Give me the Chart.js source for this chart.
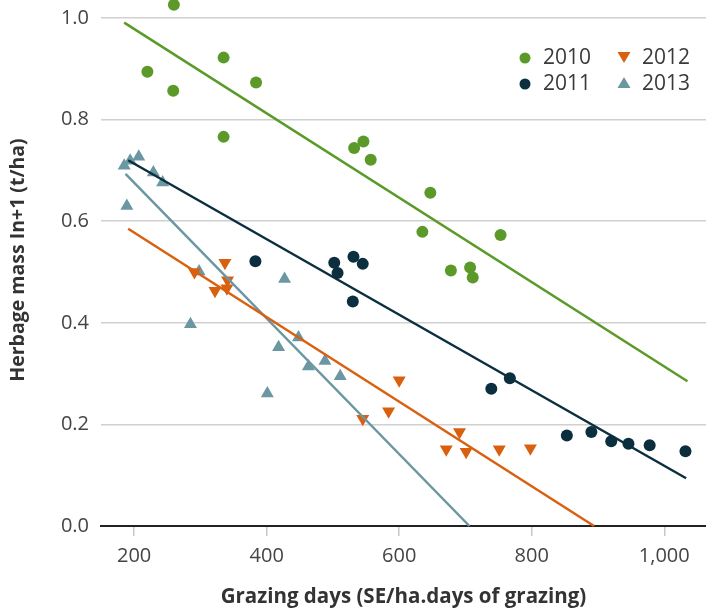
<!DOCTYPE html>
<html>
<head>
<meta charset="utf-8">
<script src="https://cdn.jsdelivr.net/npm/chart.js@4/dist/chart.umd.min.js"></script>
<style>
  html, body { margin: 0; padding: 0; background: #fff; }
  #wrap { position: relative; width: 706px; height: 612px; }
  canvas { display: block; }
  .leg { position: absolute; font-family: "Open Sans", sans-serif; font-size: 21px; color: #3a3a3a; line-height: 1; white-space: nowrap; }
</style>
</head>
<body>
<div id="wrap">
  <canvas id="c" width="706" height="612"></canvas>
  <div id="legend"></div>
</div>
<script>
// ---- Data ----
const years = ["2010", "2011", "2012", "2013"];
const colors = ["#5b9a28", "#0b2f3e", "#d9600f", "#6b97a3"];

const x2010 = [220, 260, 259, 335, 335, 384, 532, 546, 557, 635, 647, 678, 707, 711, 753];
const y2010 = [0.894, 1.026, 0.857, 0.922, 0.766, 0.873, 0.744, 0.757, 0.721, 0.579, 0.656, 0.503, 0.509, 0.489, 0.573];

const x2011 = [383, 502, 507, 531, 530, 545, 739, 767, 853, 890, 920, 946, 978, 1032];
const y2011 = [0.521, 0.518, 0.498, 0.530, 0.442, 0.516, 0.270, 0.291, 0.178, 0.185, 0.167, 0.162, 0.159, 0.147];

const x2012 = [291, 322, 337, 340, 341, 545, 584, 600, 671, 691, 701, 751, 798];
const y2012 = [0.500, 0.463, 0.518, 0.468, 0.484, 0.211, 0.226, 0.287, 0.151, 0.185, 0.146, 0.151, 0.153];

const x2013 = [185, 189, 194, 207, 229, 243, 285, 298, 401, 418, 427, 448, 463, 488, 511];
const y2013 = [0.709, 0.630, 0.719, 0.727, 0.696, 0.676, 0.397, 0.501, 0.261, 0.352, 0.486, 0.371, 0.314, 0.325, 0.295];

// Trend line end points [x, y]
const fit2010 = [[185, 0.991], [1035, 0.285]];
const fit2011 = [[191, 0.720], [1033, 0.094]];
const fit2012 = [[191, 0.585], [894, 0.0]];
const fit2013 = [[187, 0.693], [706, 0.0]];

const xTicks = [200, 400, 600, 800, 1000];
const yTicks = [0, 0.2, 0.4, 0.6, 0.8, 1.0];

const xTitle = "Grazing days (SE/ha.days of grazing)";
const yTitle = "Herbage mass In+1 (t/ha)";

// ---- Build ----
const zip = (xs, ys) => xs.map((x, i) => ({ x: x, y: ys[i] }));
const fitPts = f => f.map(p => ({ x: p[0], y: p[1] }));

const scatterXs = [x2010, x2011, x2012, x2013];
const scatterYs = [y2010, y2011, y2012, y2013];
const fits = [fit2010, fit2011, fit2012, fit2013];
const styles = [
  { pointStyle: "circle", radius: 6, rotation: 0 },
  { pointStyle: "circle", radius: 6, rotation: 0 },
  { pointStyle: "triangle", radius: 7.5, rotation: 180 },
  { pointStyle: "triangle", radius: 7.5, rotation: 0 }
];

const datasets = [];
years.forEach((yr, i) => {
  datasets.push({
    type: "scatter",
    label: yr,
    data: zip(scatterXs[i], scatterYs[i]),
    backgroundColor: colors[i],
    borderColor: colors[i],
    borderWidth: 0,
    pointStyle: styles[i].pointStyle,
    pointRadius: styles[i].radius,
    pointRotation: styles[i].rotation,
    pointHoverRadius: styles[i].radius,
    clip: false,
    order: 2
  });
});
years.forEach((yr, i) => {
  datasets.push({
    type: "line",
    label: yr + " fit",
    data: fitPts(fits[i]),
    borderColor: colors[i],
    borderWidth: 2.5,
    pointRadius: 0,
    fill: false,
    clip: false,
    order: 1
  });
});

const FONT = "'Open Sans', sans-serif";

// Points lying above the plot area are culled by Chart.js; draw those elements too.
const outsidePoints = {
  id: "outsidePoints",
  afterDatasetsDraw(chart) {
    const area = chart.chartArea;
    const big = { left: -1e4, top: -1e4, right: 1e4, bottom: 1e4 };
    chart.data.datasets.forEach((ds, i) => {
      if (ds.type !== "scatter") return;
      const meta = chart.getDatasetMeta(i);
      meta.data.forEach(pt => {
        const r = pt.options.radius;
        const inside = pt.x > area.left - r && pt.x < area.right + r && pt.y > area.top - r && pt.y < area.bottom + r;
        if (!inside) pt.draw(chart.ctx, big);
      });
    });
  }
};

// Vertical axis title
const yTitlePlugin = {
  id: "yTitlePlugin",
  afterDraw(chart) {
    const ctx = chart.ctx;
    ctx.save();
    ctx.translate(18, 260);
    ctx.rotate(-Math.PI / 2);
    ctx.fillStyle = "#333";
    ctx.font = "bold 19.5px " + FONT;
    ctx.textAlign = "center";
    ctx.textBaseline = "middle";
    ctx.fillText(yTitle, 0, 0);
    ctx.restore();
  }
};

new Chart(document.getElementById("c"), {
  data: { datasets: datasets },
  plugins: [outsidePoints, yTitlePlugin],
  options: {
    responsive: false,
    animation: false,
    events: [],
    layout: { autoPadding: false, padding: { top: 18, right: 0, left: 0, bottom: 0 } },
    plugins: { legend: { display: false }, tooltip: { enabled: false } },
    scales: {
      x: {
        type: "linear",
        min: 150,
        max: 1063,
        afterBuildTicks: s => { s.ticks = xTicks.map(v => ({ value: v })); },
        afterFit: s => { s.height = 86; s.paddingLeft = 0; s.paddingRight = 0; },
        grid: { drawOnChartArea: false, drawTicks: true, tickLength: 10, tickColor: "#c8c8c8", lineWidth: 1.5 },
        border: { display: true, color: "#222", width: 2 },
        ticks: {
          padding: 8,
          maxRotation: 0,
          color: "#444",
          font: { family: FONT, size: 20 },
          callback: v => v.toLocaleString("en-US")
        },
        title: {
          display: true,
          text: xTitle,
          color: "#333",
          font: { family: FONT, size: 20.5, weight: "bold" },
          padding: { top: 0, bottom: 3 }
        }
      },
      y: {
        type: "linear",
        min: 0,
        max: 1,
        afterBuildTicks: s => { s.ticks = yTicks.map(v => ({ value: v })); },
        afterFit: s => { s.width = 101; s.paddingTop = 0; s.paddingBottom = 0; },
        grid: {
          drawTicks: false,
          color: c => (c.tick && c.tick.value === 0) ? "#222" : "#d0d0d0",
          lineWidth: c => (c.tick && c.tick.value === 0) ? 2 : 1.5
        },
        border: { display: false },
        ticks: {
          padding: 12,
          color: "#444",
          font: { family: FONT, size: 20 },
          callback: v => Number(v).toFixed(1)
        },
        title: { display: false }
      }
    }
  }
});

// ---- HTML legend (2 x 2) ----
const legendPos = [
  { mx: 525, my: 58, tx: 543, ty: 58 },
  { mx: 525, my: 84, tx: 543, ty: 84 },
  { mx: 624, my: 57, tx: 642, ty: 58 },
  { mx: 624, my: 83, tx: 642, ty: 84 }
];
const legend = document.getElementById("legend");
years.forEach((yr, i) => {
  const p = legendPos[i];
  const mk = document.createElementNS("http://www.w3.org/2000/svg", "svg");
  mk.setAttribute("width", "16");
  mk.setAttribute("height", "16");
  mk.style.position = "absolute";
  mk.style.left = (p.mx - 8) + "px";
  mk.style.top = (p.my - 8) + "px";
  let shape;
  if (styles[i].pointStyle === "circle") {
    shape = document.createElementNS("http://www.w3.org/2000/svg", "circle");
    shape.setAttribute("cx", "8"); shape.setAttribute("cy", "8"); shape.setAttribute("r", "5.5");
  } else if (styles[i].rotation === 180) {
    shape = document.createElementNS("http://www.w3.org/2000/svg", "polygon");
    shape.setAttribute("points", "1.5,3 14.5,3 8,14");
  } else {
    shape = document.createElementNS("http://www.w3.org/2000/svg", "polygon");
    shape.setAttribute("points", "1.5,13 14.5,13 8,2");
  }
  shape.setAttribute("fill", colors[i]);
  mk.appendChild(shape);
  legend.appendChild(mk);
  const t = document.createElement("div");
  t.className = "leg";
  t.textContent = yr;
  t.style.left = p.tx + "px";
  t.style.top = (p.ty - 12) + "px";
  legend.appendChild(t);
});
</script>
</body>
</html>
